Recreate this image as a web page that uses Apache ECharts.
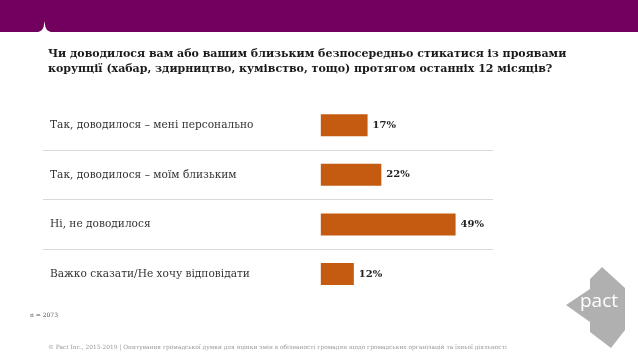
<!DOCTYPE html>
<html><head><meta charset="utf-8">
<script src="https://cdn.jsdelivr.net/npm/echarts@6/dist/echarts.min.js"></script>
<style>html,body{margin:0;padding:0;background:#fff}#c{width:638px;height:359px}</style>
</head><body><div id="c"></div>
<script>
const categories = [
  'Так, доводилося – мені персонально',
  'Так, доводилося – моїм близьким',
  'Ні, не доводилося',
  'Важко сказати/Не хочу відповідати'
];
const values = [17, 22, 49, 12];
const titleLines = [
  'Чи доводилося вам або вашим близьким безпосередньо стикатися із проявами',
  'корупції (хабар, здирництво, кумівство, тощо) протягом останніх 12 місяців?'
];
const sampleNote = 'n = 2073';
const footerText = '© Pact Inc., 2015-2019 | Опитування громадської думки для оцінки змін в обізнаності громадян щодо громадських організацій та їхньої діяльності';

const chart = echarts.init(document.getElementById('c'));
chart.setOption({
  animation: false,
  title: {
    text: titleLines.join('\n'),
    left: 43, top: 42,
    textStyle: { fontFamily: 'DejaVu Serif', fontWeight: 'bold', fontSize: 11, lineHeight: 15, color: '#1a1a1a' }
  },
  grid: { left: 43, right: 145, top: 100.5, bottom: 60.2 },
  xAxis: { type: 'value', min: -101, max: 62.6, show: false },
  yAxis: {
    type: 'category', inverse: true, data: categories,
    axisLine: { show: false }, axisTick: { show: false },
    axisLabel: { inside: true, margin: 7, fontFamily: 'DejaVu Serif', fontSize: 10.6, color: '#333' },
    splitLine: { show: true, showMinLine: false, showMaxLine: false, lineStyle: { color: '#d9d9d9', width: 1 } }
  },
  series: [{
    type: 'bar', data: values, barWidth: 22,
    itemStyle: { color: '#C55A11' },
    label: { show: true, position: 'right', distance: 5, formatter: '{c}%',
      fontFamily: 'DejaVu Serif', fontWeight: 'bold', fontSize: 10, color: '#222' }
  }],
  graphic: [
    { type: 'rect', shape: { x: 0, y: 0, width: 638, height: 32 }, style: { fill: '#72005F' }, silent: true },
    { type: 'polygon', shape: { points: [[35,32.5],[39,31.8],[42,30],[43.6,27],[44.5,21],[45.4,27],[47,30],[50,31.8],[54,32.5]] }, style: { fill: '#fff' }, silent: true },
    { type: 'text', left: 30, top: 312, style: { text: sampleNote, fontFamily: 'DejaVu Serif', fontSize: 6, fill: '#555' } },
    { type: 'text', left: 48, top: 344, style: { text: footerText, fontFamily: 'DejaVu Serif', fontSize: 5.9, fill: '#999' } },
    { type: 'polygon', shape: { points: [[602,267],[625,288],[625,330],[611,348],[590,332],[590,322],[566,305],[590,289],[590,279]] }, style: { fill: '#B0B0B0' }, silent: true },
    { type: 'text', left: 580, top: 292, style: { text: 'pact', fontFamily: 'Open Sans', fontSize: 19, fill: '#fff' } }
  ]
});
</script></body></html>
